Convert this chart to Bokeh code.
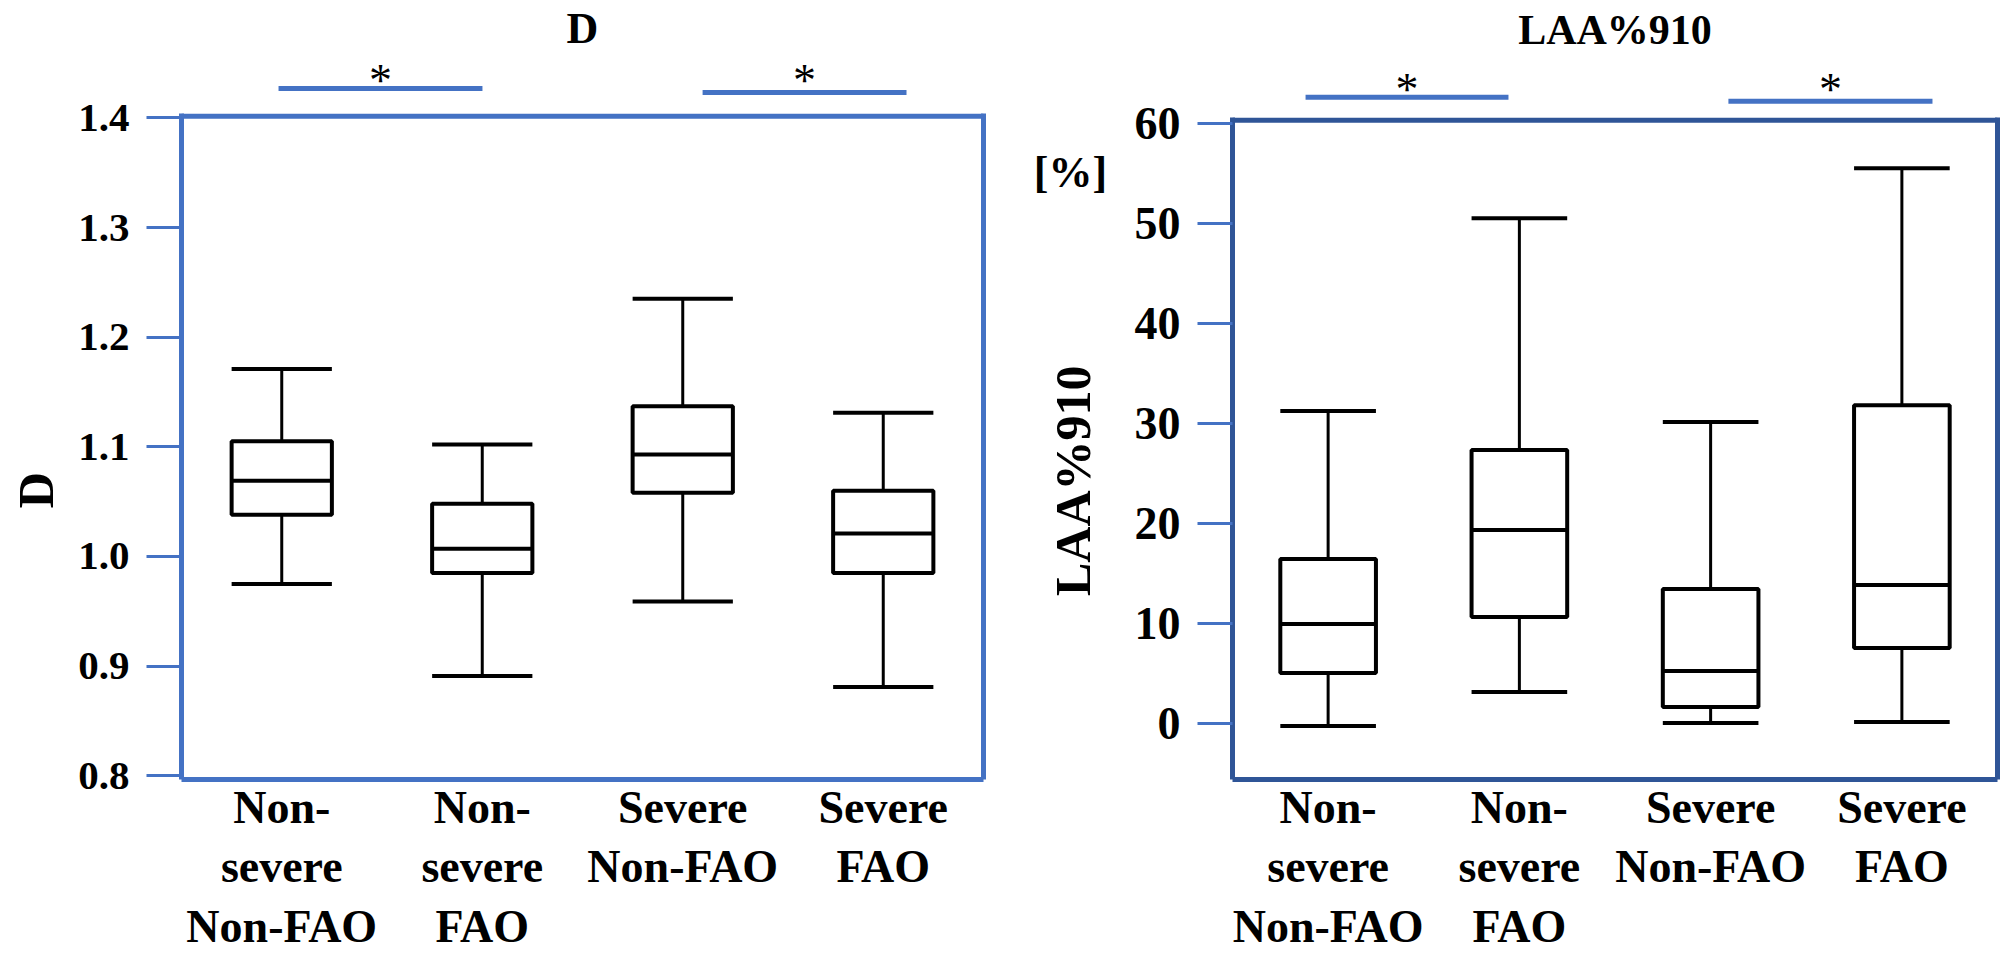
from math import pi
from bokeh.plotting import figure
from bokeh.models import (FactorRange, Range1d, FixedTicker, Span, LinearAxis,
                          ColumnDataSource, NumeralTickFormatter)
from bokeh.core.properties import value
from bokeh.transform import dodge
from bokeh.layouts import row
from bokeh.embed import file_html
from bokeh.resources import INLINE

# ---------------- data ----------------
categories = ["Non-\nsevere\nNon-FAO", "Non-\nsevere\nFAO",
              "Severe\nNon-FAO", "Severe\nFAO"]

# Panel 1: D
d_lower  = [0.975, 0.891, 0.959, 0.881]
d_q1     = [1.038, 0.985, 1.058, 0.985]
d_median = [1.069, 1.007, 1.093, 1.021]
d_q3     = [1.105, 1.048, 1.137, 1.060]
d_upper  = [1.171, 1.102, 1.235, 1.131]
d_ticks  = [0.8, 0.9, 1.0, 1.1, 1.2, 1.3, 1.4]

# Panel 2: LAA%910 [%]
laa_lower  = [-0.3, 3.1, 0.0, 0.1]
laa_q1     = [5.0, 10.6, 1.6, 7.5]
laa_median = [9.9, 19.3, 5.2, 13.8]
laa_q3     = [16.4, 27.3, 13.4, 31.8]
laa_upper  = [31.2, 50.5, 30.1, 55.5]
laa_ticks  = [0, 10, 20, 30, 40, 50, 60]

# significance brackets (pairs of category indices)
sig_pairs = [(0, 1), (2, 3)]
sig_label = "*"

# ---------------- styling / geometry ----------------
SERIF = "Liberation Serif"
BLUE = "#4472C4"
NAVY = "#2F5597"
H = 954
F_TOP = 52            # frame top (px) of every figure

# panel 1 geometry
D_BOX_TOP_PX = 116
D_PX_PER_UNIT = 1099.6
d_box_top = 1.4014
d_y_start = 0.7966
d_y_end = d_box_top + (D_BOX_TOP_PX - F_TOP) / D_PX_PER_UNIT
d_range = Range1d(d_y_start, d_y_end)


def d_val(px):
    return d_box_top + (D_BOX_TOP_PX - px) / D_PX_PER_UNIT


# panel 2 geometry
L_BOX_TOP_PX = 120
laa_box_top = 60.3
laa_y_start = -5.65
L_PX_PER_UNIT = (782 - L_BOX_TOP_PX) / (laa_box_top - laa_y_start)
laa_y_end = laa_box_top + (L_BOX_TOP_PX - F_TOP) / L_PX_PER_UNIT
laa_range = Range1d(laa_y_start, laa_y_end)


def l_val(px):
    return laa_box_top + (L_BOX_TOP_PX - px) / L_PX_PER_UNIT


def main_panel(title, lower, q1, med, q3, upper, y_range, box_top, px_per_unit,
               ticks, fmt, width, border_left, border_right, border_bottom,
               frame_color, tick_font, title_font):
    src = ColumnDataSource(dict(cat=categories, lower=lower, q1=q1, med=med,
                                q3=q3, upper=upper))
    p = figure(width=width, height=H, title=title,
               x_range=FactorRange(*categories), y_range=y_range,
               output_backend="svg", toolbar_location=None,
               min_border_left=border_left, min_border_right=border_right,
               min_border_top=F_TOP, min_border_bottom=border_bottom)
    p.background_fill_color = "white"
    p.border_fill_color = "white"
    p.outline_line_color = None
    p.xgrid.visible = False
    p.ygrid.visible = False

    p.title.align = "center"
    p.title.text_font = SERIF
    p.title.text_font_style = "bold"
    p.title.text_font_size = title_font
    p.title.text_color = "black"
    p.title.standoff = 0

    eps = 2.5 / px_per_unit
    # box frame: top edge
    p.add_layout(Span(location=box_top, dimension="width",
                      line_color=frame_color, line_width=5))
    # right edge
    ra = LinearAxis(ticker=FixedTicker(ticks=[]),
                    bounds=(y_range.start, box_top + eps),
                    axis_line_color=frame_color, axis_line_width=5,
                    major_tick_in=0, major_tick_out=0,
                    minor_tick_in=0, minor_tick_out=0,
                    major_label_standoff=0, major_label_text_font_size="0px")
    p.add_layout(ra, "right")

    # whisker stems
    p.segment(x0="cat", y0="q3", x1="cat", y1="upper", source=src,
              line_color="black", line_width=3)
    p.segment(x0="cat", y0="lower", x1="cat", y1="q1", source=src,
              line_color="black", line_width=3)
    # boxes
    p.vbar(x="cat", width=0.5, bottom="q1", top="q3", source=src,
           fill_color="white", line_color="black", line_width=4)
    # median and caps
    for col in ("med", "upper", "lower"):
        p.segment(x0=dodge("cat", -0.25, range=p.x_range), y0=col,
                  x1=dodge("cat", 0.25, range=p.x_range), y1=col,
                  source=src, line_color="black", line_width=4)

    # y axis (left edge of the box)
    ya = p.yaxis[0]
    ya.ticker = FixedTicker(ticks=ticks)
    ya.formatter = NumeralTickFormatter(format=fmt)
    ya.bounds = (y_range.start, box_top + eps)
    ya.axis_line_color = frame_color
    ya.axis_line_width = 5
    ya.major_tick_in = 0
    ya.major_tick_out = 35
    ya.major_tick_line_color = BLUE
    ya.major_tick_line_width = 3
    ya.minor_tick_line_color = None
    ya.major_label_standoff = 17
    ya.major_label_text_font = SERIF
    ya.major_label_text_font_style = "bold"
    ya.major_label_text_font_size = tick_font
    ya.major_label_text_color = "black"

    # x axis (bottom edge of the box)
    xa = p.xaxis[0]
    xa.axis_line_color = frame_color
    xa.axis_line_width = 5
    xa.major_tick_line_color = None
    xa.major_tick_in = 0
    xa.major_tick_out = 0
    xa.major_label_standoff = 2
    xa.major_label_text_font = SERIF
    xa.major_label_text_font_style = "bold"
    xa.major_label_text_font_size = "46px"
    xa.major_label_text_color = "black"
    xa.major_label_text_line_height = 1.17
    return p


def add_sig(p, offsets, bar_ys, star_y):
    for (a, b), (o0, o1), yb in zip(sig_pairs, offsets, bar_ys):
        s = ColumnDataSource(dict(a=[categories[a]], b=[categories[b]],
                                  y=[yb], sy=[star_y], t=[sig_label]))
        p.segment(x0=dodge("a", o0, range=p.x_range), y0="y",
                  x1=dodge("b", o1, range=p.x_range), y1="y", source=s,
                  line_color=BLUE, line_width=5)
        p.text(x=dodge("a", (1 + o0 + o1) / 2, range=p.x_range), y="sy",
               text="t", source=s, text_font=value(SERIF),
               text_font_size=value("46px"), text_color="black",
               text_align="center", text_baseline="alphabetic")


def label_fig(width, y_range, border_bottom):
    lf = figure(width=width, height=H, x_range=Range1d(0, width),
                y_range=y_range, x_axis_type=None, y_axis_type=None,
                output_backend="svg", toolbar_location=None,
                min_border_left=0, min_border_right=0,
                min_border_top=F_TOP, min_border_bottom=border_bottom)
    lf.outline_line_color = None
    lf.background_fill_color = "white"
    lf.border_fill_color = "white"
    return lf


# ---------------- panel 1 ----------------
p1 = main_panel("D", d_lower, d_q1, d_median, d_q3, d_upper, d_range,
                d_box_top, D_PX_PER_UNIT, d_ticks, "0.0",
                930, 111, 17, 173, BLUE, "41px", "44px")
add_sig(p1, [(-0.016, 0.001), (0.099, 0.116)], [d_val(88), d_val(92)],
        d_val(80))
lf1 = label_fig(70, d_range, 173)
lf1.text(x=[35], y=[d_val(491)], text=["D"], angle=pi / 2,
         text_font=value(SERIF), text_font_style="bold",
         text_font_size=value("50px"), text_color="black",
         text_align="center", text_baseline="middle")

# ---------------- panel 2 ----------------
p2 = main_panel("LAA%910", laa_lower, laa_q1, laa_median, laa_q3, laa_upper,
                laa_range, laa_box_top, L_PX_PER_UNIT, laa_ticks, "0",
                880, 112, 3, 172, NAVY, "46px", "42px")
add_sig(p2, [(-0.118, -0.057), (0.093, 0.160)], [l_val(97), l_val(101)],
        l_val(89))
lf2 = label_fig(120, laa_range, 172)
lf2.text(x=[72], y=[l_val(482)], text=["LAA%910"], angle=pi / 2,
         text_font=value(SERIF), text_font_style="bold",
         text_font_size=value("50px"), text_color="black",
         text_align="center", text_baseline="middle")
lf2.text(x=[70], y=[l_val(172)], text=["[%]"],
         text_font=value(SERIF), text_font_style="bold",
         text_font_size=value("44px"), text_color="black",
         text_align="center", text_baseline="middle")

layout = row(lf1, p1, lf2, p2)
open("out.html", "w").write(file_html(layout, INLINE))
